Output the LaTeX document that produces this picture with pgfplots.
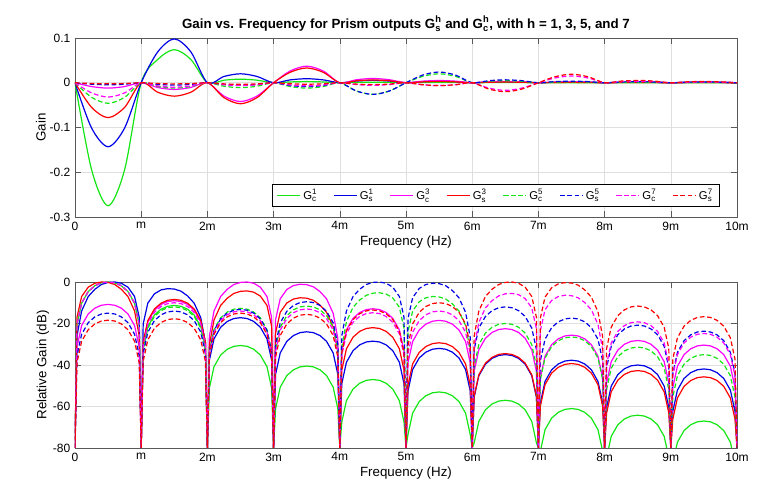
\documentclass[border=0pt]{standalone}
\usepackage{pgfplots}
\usepackage{pgfplotstable}
\usepackage{amsmath}
\usepackage{fontspec}
\setmainfont{Liberation Sans}
\pgfplotsset{compat=1.18}
\definecolor{myg}{RGB}{20,230,20}
\definecolor{myb}{RGB}{0,0,230}
\definecolor{mym}{RGB}{255,0,255}
\definecolor{myr}{RGB}{255,0,0}
\pgfplotstableread{
x c1 s1 c3 s3 c5 s5 c7 s7
0 0 0 0 0 0 0 0 0
0.25 -0.194 -0.101 -0.0085 -0.055 -0.0325 -0.0033 -0.0226 -0.0017
0.5 -0.275 -0.143 -0.012 -0.078 -0.046 -0.0046 -0.032 -0.0024
0.75 -0.194 -0.101 -0.0085 -0.055 -0.0325 -0.0033 -0.0226 -0.0017
1 0 0 0 0 0 0 0 0
1.25 0.052 0.069 -0.0106 -0.0212 -0.0085 -0.0037 -0.0071 -0.0018
1.5 0.074 0.098 -0.015 -0.030 -0.012 -0.0052 -0.010 -0.0026
1.75 0.052 0.069 -0.0106 -0.0212 -0.0085 -0.0037 -0.0071 -0.0018
2 0 0 0 0 0 0 0 0
2.25 0.0057 0.014 -0.0297 -0.0332 -0.0078 -0.004 -0.0045 -0.0025
2.5 0.008 0.020 -0.042 -0.047 -0.011 -0.0057 -0.0064 -0.0036
2.75 0.0057 0.014 -0.0297 -0.0332 -0.0078 -0.004 -0.0045 -0.0025
3 0 0 0 0 0 0 0 0
3.25 0.0018 0.0064 0.0262 0.0233 -0.0085 -0.0062 -0.005 -0.0023
3.5 0.0026 0.009 0.037 0.033 -0.012 -0.0087 -0.007 -0.0033
3.75 0.0018 0.0064 0.0262 0.0233 -0.0085 -0.0062 -0.005 -0.0023
4 0 0 0 0 0 0 0 0
4.25 0.0008 0.0038 0.0067 0.0044 -0.0184 -0.0184 -0.0041 -0.003
4.5 0.0012 0.0054 0.0095 0.0062 -0.026 -0.026 -0.0058 -0.0042
4.75 0.0008 0.0038 0.0067 0.0044 -0.0184 -0.0184 -0.0041 -0.003
5 0 0 0 0 0 0 0 0
5.25 0.0004 0.0025 0.0035 0.0019 0.0141 0.017 -0.0045 -0.0045
5.5 0.0006 0.0036 0.005 0.0027 0.020 0.024 -0.0064 -0.0063
5.75 0.0004 0.0025 0.0035 0.0019 0.0141 0.017 -0.0045 -0.0045
6 0 0 0 0 0 0 0 0
6.25 0.0003 0.0018 0.0021 0.0011 0.0033 0.0046 -0.012 -0.0141
6.5 0.0004 0.0025 0.003 0.0015 0.0046 0.0065 -0.017 -0.020
6.75 0.0003 0.0018 0.0021 0.0011 0.0033 0.0046 -0.012 -0.0141
7 0 0 0 0 0 0 0 0
7.25 0.0001 0.0013 0.0016 0.0006 0.0016 0.0025 0.0106 0.0134
7.5 0.0002 0.0019 0.0022 0.0008 0.0022 0.0035 0.015 0.019
7.75 0.0001 0.0013 0.0016 0.0006 0.0016 0.0025 0.0106 0.0134
8 0 0 0 0 0 0 0 0
8.25 0.0001 0.001 0.0011 0.0004 0.0008 0.0017 0.0025 0.0037
8.5 0.0002 0.0014 0.0016 0.0006 0.0012 0.0024 0.0035 0.0052
8.75 0.0001 0.001 0.0011 0.0004 0.0008 0.0017 0.0025 0.0037
9 0 0 0 0 0 0 0 0
9.25 0.0001 0.0008 0.0009 0.0003 0.0006 0.0012 0.0013 0.0021
9.5 0.0001 0.0011 0.0013 0.0004 0.0008 0.0017 0.0018 0.0029
9.75 0.0001 0.0008 0.0009 0.0003 0.0006 0.0012 0.0013 0.0021
10 0 0 0 0 0 0 0 0
}\gaintab
\pgfplotstableread{
x c1 s1 c3 s3 c5 s5 c7 s7
0 -80 -80 -80 -80 -80 -80 -80 -80
0.03 -20.5 -26 -31.3 -17 -20.5 -35.5 -20.5 -38.9
0.1 -10.2 -14 -21 -7 -10.2 -25.2 -10.2 -28.6
0.2 -4.6 -7 -15.4 -2.5 -4.6 -19.6 -4.6 -23
0.3 -1.8 -3.5 -12.6 -0.6 -1.8 -16.8 -1.8 -20.2
0.4 -0.4 -1.2 -11.2 0 -0.4 -15.4 -0.4 -18.8
0.5 0 -0.2 -10.8 -0.2 0 -15 0 -18.4
0.6 -0.4 0 -11.2 -1.2 -0.4 -15.4 -0.4 -18.8
0.7 -1.8 -0.6 -12.6 -3.5 -1.8 -16.8 -1.8 -20.2
0.8 -4.6 -2.5 -15.4 -7 -4.6 -19.6 -4.6 -23
0.9 -10.2 -7 -21 -14 -10.2 -25.2 -10.2 -28.6
0.97 -20.5 -17 -31.3 -26 -20.5 -35.5 -20.5 -38.9
1 -80 -80 -80 -80 -80 -80 -80 -80
1.03 -31.8 -20.2 -29.5 -28.9 -32.5 -34.5 -30.5 -38.2
1.1 -21.5 -10.2 -19.2 -18.6 -22.2 -24.2 -20.2 -27.9
1.2 -15.9 -5.7 -13.6 -13 -16.6 -18.6 -14.6 -22.3
1.3 -13.1 -3.8 -10.8 -10.2 -13.8 -15.8 -11.8 -19.5
1.4 -11.7 -3.2 -9.4 -8.8 -12.4 -14.4 -10.4 -18.1
1.5 -11.3 -3.4 -9 -8.4 -12 -14 -10 -17.7
1.6 -11.7 -4.4 -9.4 -8.8 -12.4 -14.4 -10.4 -18.1
1.7 -13.1 -6.7 -10.8 -10.2 -13.8 -15.8 -11.8 -19.5
1.8 -15.9 -10.2 -13.6 -13 -16.6 -18.6 -14.6 -22.3
1.9 -21.5 -17.2 -19.2 -18.6 -22.2 -24.2 -20.2 -27.9
1.97 -31.8 -29.2 -29.5 -28.9 -32.5 -34.5 -30.5 -38.2
2 -80 -80 -80 -80 -80 -80 -80 -80
2.03 -51.1 -37.7 -26 -30.3 -33.2 -33.7 -34.5 -35.5
2.1 -40.8 -27.4 -14 -18.3 -22.9 -23.4 -24.2 -25.2
2.2 -35.2 -21.8 -7 -11.3 -17.3 -17.8 -18.6 -19.6
2.3 -32.4 -19 -3.5 -7.8 -14.5 -15 -15.8 -16.8
2.4 -31 -17.6 -1.2 -5.5 -13.1 -13.6 -14.4 -15.4
2.5 -30.6 -17.2 -0.2 -4.5 -12.7 -13.2 -14 -15
2.6 -31 -17.6 0 -4.3 -13.1 -13.6 -14.4 -15.4
2.7 -32.4 -19 -0.6 -4.9 -14.5 -15 -15.8 -16.8
2.8 -35.2 -21.8 -2.5 -6.8 -17.3 -17.8 -18.6 -19.6
2.9 -40.8 -27.4 -7 -11.3 -22.9 -23.4 -24.2 -25.2
2.97 -51.1 -37.7 -17 -21.3 -33.2 -33.7 -34.5 -35.5
3 -80 -80 -80 -80 -80 -80 -80 -80
3.03 -61 -44.5 -18.1 -24.6 -32.1 -30 -33.5 -36.1
3.1 -50.7 -34.2 -8.1 -14.6 -21.8 -19.7 -23.2 -25.8
3.2 -45.1 -28.6 -3.6 -10.1 -16.2 -14.1 -17.6 -20.2
3.3 -42.3 -25.8 -1.7 -8.2 -13.4 -11.3 -14.8 -17.4
3.4 -40.9 -24.4 -1.1 -7.6 -12 -9.9 -13.4 -16
3.5 -40.5 -24 -1.3 -7.8 -11.6 -9.5 -13 -15.6
3.6 -40.9 -24.4 -2.3 -8.8 -12 -9.9 -13.4 -16
3.7 -42.3 -25.8 -4.6 -11.1 -13.4 -11.3 -14.8 -17.4
3.8 -45.1 -28.6 -8.1 -14.6 -16.2 -14.1 -17.6 -20.2
3.9 -50.7 -34.2 -15.1 -21.6 -21.8 -19.7 -23.2 -25.8
3.97 -61 -44.5 -27.1 -33.6 -32.1 -30 -33.5 -36.1
4 -80 -80 -80 -80 -80 -80 -80 -80
4.03 -67.5 -49 -33.4 -42.5 -31.2 -26 -35.3 -34
4.1 -57.2 -38.7 -23.1 -32.2 -19.2 -14 -25 -23.7
4.2 -51.6 -33.1 -17.5 -26.6 -12.2 -7 -19.4 -18.1
4.3 -48.8 -30.3 -14.7 -23.8 -8.7 -3.5 -16.6 -15.3
4.4 -47.4 -28.9 -13.3 -22.4 -6.4 -1.2 -15.2 -13.9
4.5 -47 -28.5 -12.9 -22 -5.4 -0.2 -14.8 -13.5
4.6 -47.4 -28.9 -13.3 -22.4 -5.2 0 -15.2 -13.9
4.7 -48.8 -30.3 -14.7 -23.8 -5.8 -0.6 -16.6 -15.3
4.8 -51.6 -33.1 -17.5 -26.6 -7.7 -2.5 -19.4 -18.1
4.9 -57.2 -38.7 -23.1 -32.2 -12.2 -7 -25 -23.7
4.97 -67.5 -49 -33.4 -42.5 -22.2 -17 -35.3 -34
5 -80 -80 -80 -80 -80 -80 -80 -80
5.03 -73.5 -52.5 -39 -49.8 -24 -17.6 -34.5 -30.5
5.1 -63.2 -42.2 -28.7 -39.5 -14 -7.6 -24.2 -20.2
5.2 -57.6 -36.6 -23.1 -33.9 -9.5 -3.1 -18.6 -14.6
5.3 -54.8 -33.8 -20.3 -31.1 -7.6 -1.2 -15.8 -11.8
5.4 -53.4 -32.4 -18.9 -29.7 -7 -0.6 -14.4 -10.4
5.5 -53 -32 -18.5 -29.3 -7.2 -0.8 -14 -10
5.6 -53.4 -32.4 -18.9 -29.7 -8.2 -1.8 -14.4 -10.4
5.7 -54.8 -33.8 -20.3 -31.1 -10.5 -4.1 -15.8 -11.8
5.8 -57.6 -36.6 -23.1 -33.9 -14 -7.6 -18.6 -14.6
5.9 -63.2 -42.2 -28.7 -39.5 -21 -14.6 -24.2 -20.2
5.97 -73.5 -52.5 -39 -49.8 -33 -26.6 -34.5 -30.5
6 -80 -80 -80 -80 -80 -80 -80 -80
6.03 -77.5 -55.5 -43 -55 -40.5 -32.5 -31.5 -26
6.1 -67.2 -45.2 -32.7 -44.7 -30.2 -22.2 -19.5 -14
6.2 -61.6 -39.6 -27.1 -39.1 -24.6 -16.6 -12.5 -7
6.3 -58.8 -36.8 -24.3 -36.3 -21.8 -13.8 -9 -3.5
6.4 -57.4 -35.4 -22.9 -34.9 -20.4 -12.4 -6.7 -1.2
6.5 -57 -35 -22.5 -34.5 -20 -12 -5.7 -0.2
6.6 -57.4 -35.4 -22.9 -34.9 -20.4 -12.4 -5.5 0
6.7 -58.8 -36.8 -24.3 -36.3 -21.8 -13.8 -6.1 -0.6
6.8 -61.6 -39.6 -27.1 -39.1 -24.6 -16.6 -8 -2.5
6.9 -67.2 -45.2 -32.7 -44.7 -30.2 -22.2 -12.5 -7
6.97 -77.5 -55.5 -43 -55 -40.5 -32.5 -22.5 -17
7 -80 -80 -80 -80 -80 -80 -80 -80
7.03 -81.5 -58.2 -46.1 -59.8 -47 -37.9 -23.4 -17.3
7.1 -71.2 -47.9 -35.8 -49.5 -36.7 -27.6 -13.4 -7.3
7.2 -65.6 -42.3 -30.2 -43.9 -31.1 -22 -8.9 -2.8
7.3 -62.8 -39.5 -27.4 -41.1 -28.3 -19.2 -7 -0.9
7.4 -61.4 -38.1 -26 -39.7 -26.9 -17.8 -6.4 -0.3
7.5 -61 -37.7 -25.6 -39.3 -26.5 -17.4 -6.6 -0.5
7.6 -61.4 -38.1 -26 -39.7 -26.9 -17.8 -7.6 -1.5
7.7 -62.8 -39.5 -27.4 -41.1 -28.3 -19.2 -9.9 -3.8
7.8 -65.6 -42.3 -30.2 -43.9 -31.1 -22 -13.4 -7.3
7.9 -71.2 -47.9 -35.8 -49.5 -36.7 -27.6 -20.4 -14.3
7.97 -81.5 -58.2 -46.1 -59.8 -47 -37.9 -32.4 -26.3
8 -80 -80 -80 -80 -80 -80 -80 -80
8.03 -84.7 -60.5 -48.7 -63.2 -51.9 -41.3 -39.7 -32.1
8.1 -74.4 -50.2 -38.4 -52.9 -41.6 -31 -29.4 -21.8
8.2 -68.8 -44.6 -32.8 -47.3 -36 -25.4 -23.8 -16.2
8.3 -66 -41.8 -30 -44.5 -33.2 -22.6 -21 -13.4
8.4 -64.6 -40.4 -28.6 -43.1 -31.8 -21.2 -19.6 -12
8.5 -64.2 -40 -28.2 -42.7 -31.4 -20.8 -19.2 -11.6
8.6 -64.6 -40.4 -28.6 -43.1 -31.8 -21.2 -19.6 -12
8.7 -66 -41.8 -30 -44.5 -33.2 -22.6 -21 -13.4
8.8 -68.8 -44.6 -32.8 -47.3 -36 -25.4 -23.8 -16.2
8.9 -74.4 -50.2 -38.4 -52.9 -41.6 -31 -29.4 -21.8
8.97 -84.7 -60.5 -48.7 -63.2 -51.9 -41.3 -39.7 -32.1
9 -80 -80 -80 -80 -80 -80 -80 -80
9.03 -87.5 -62.4 -50.9 -66.2 -55.5 -44.2 -45.3 -37.2
9.1 -77.2 -52.1 -40.6 -55.9 -45.2 -33.9 -35 -26.9
9.2 -71.6 -46.5 -35 -50.3 -39.6 -28.3 -29.4 -21.3
9.3 -68.8 -43.7 -32.2 -47.5 -36.8 -25.5 -26.6 -18.5
9.4 -67.4 -42.3 -30.8 -46.1 -35.4 -24.1 -25.2 -17.1
9.5 -67 -41.9 -30.4 -45.7 -35 -23.7 -24.8 -16.7
9.6 -67.4 -42.3 -30.8 -46.1 -35.4 -24.1 -25.2 -17.1
9.7 -68.8 -43.7 -32.2 -47.5 -36.8 -25.5 -26.6 -18.5
9.8 -71.6 -46.5 -35 -50.3 -39.6 -28.3 -29.4 -21.3
9.9 -77.2 -52.1 -40.6 -55.9 -45.2 -33.9 -35 -26.9
9.97 -87.5 -62.4 -50.9 -66.2 -55.5 -44.2 -45.3 -37.2
10 -80 -80 -80 -80 -80 -80 -80 -80
}\dbtab
\pgfplotsset{
  common/.style={
    width=496.5pt, scale only axis,
    xmin=0, xmax=10, xtick={0,...,10},
    xticklabels={0,m,2m,3m,4m,5m,6m,7m,8m,9m,10m},
    grid=major, major grid style={gray!25},
    tick align=inside, axis line style={gray!70!black},
    tick style={gray!70!black},
    ticklabel style={font=\fontsize{9}{10}\selectfont},
    label style={font=\fontsize{10}{12}\selectfont},
    /pgf/number format/assume math mode=true,
    xlabel={Frequency (Hz)},
    xlabel style={yshift=3pt},
    every axis plot/.append style={line width=0.9pt},
    ds/.style={dash pattern=on 3.5pt off 2pt},
  }
}
\begin{document}
\begin{tikzpicture}
\useasboundingbox (-56.25pt,0) rectangle (519.75pt,374.25pt);
\begin{axis}[common, at={(0,211.5pt)}, anchor=south west, height=134.25pt,
  ymin=-0.3, ymax=0.1, ytick={-0.3,-0.2,-0.1,0,0.1},
  yticklabel style={/pgf/number format/fixed},
  ylabel={Gain}, ylabel style={yshift=-4pt},
  title={\bfseries Gain vs. Frequency for Prism outputs $\text{G}^{\text{h}}_{\text{s}}$ and $\text{G}^{\text{h}}_{\text{c}}$, with h = 1, 3, 5, and 7},
  title style={font=\fontsize{10}{12}\selectfont, yshift=-5pt},
  legend columns=8,
  legend style={at={(0.974,0.056)}, anchor=south east, draw=black, font=\fontsize{8.5}{10}\selectfont, /tikz/every even column/.append style={column sep=10pt}},
  legend cell align=left]
\addplot[color=myg, smooth] table[x=x,y=c1]{\gaintab};
\addlegendentry{$\text{G}^{\text{1}}_{\text{c}}$}
\addplot[color=myb, smooth] table[x=x,y=s1]{\gaintab};
\addlegendentry{$\text{G}^{\text{1}}_{\text{s}}$}
\addplot[color=mym, smooth] table[x=x,y=c3]{\gaintab};
\addlegendentry{$\text{G}^{\text{3}}_{\text{c}}$}
\addplot[color=myr, smooth] table[x=x,y=s3]{\gaintab};
\addlegendentry{$\text{G}^{\text{3}}_{\text{s}}$}
\addplot[color=myg, ds, smooth] table[x=x,y=c5]{\gaintab};
\addlegendentry{$\text{G}^{\text{5}}_{\text{c}}$}
\addplot[color=myb, ds, smooth] table[x=x,y=s5]{\gaintab};
\addlegendentry{$\text{G}^{\text{5}}_{\text{s}}$}
\addplot[color=mym, ds, smooth] table[x=x,y=c7]{\gaintab};
\addlegendentry{$\text{G}^{\text{7}}_{\text{c}}$}
\addplot[color=myr, ds, smooth] table[x=x,y=s7]{\gaintab};
\addlegendentry{$\text{G}^{\text{7}}_{\text{s}}$}
\end{axis}
\begin{axis}[common, at={(0,38.25pt)}, anchor=south west, height=124.5pt,
  ymin=-80, ymax=0, ytick={-80,-60,-40,-20,0},
  ylabel={Relative Gain (dB)}, ylabel style={yshift=-4pt}]
\addplot[color=myg] table[x=x,y=c1]{\dbtab};
\addplot[color=myb] table[x=x,y=s1]{\dbtab};
\addplot[color=mym] table[x=x,y=c3]{\dbtab};
\addplot[color=myr] table[x=x,y=s3]{\dbtab};
\addplot[color=myg, ds] table[x=x,y=c5]{\dbtab};
\addplot[color=myb, ds] table[x=x,y=s5]{\dbtab};
\addplot[color=mym, ds] table[x=x,y=c7]{\dbtab};
\addplot[color=myr, ds] table[x=x,y=s7]{\dbtab};
\end{axis}
\end{tikzpicture}
\end{document}
